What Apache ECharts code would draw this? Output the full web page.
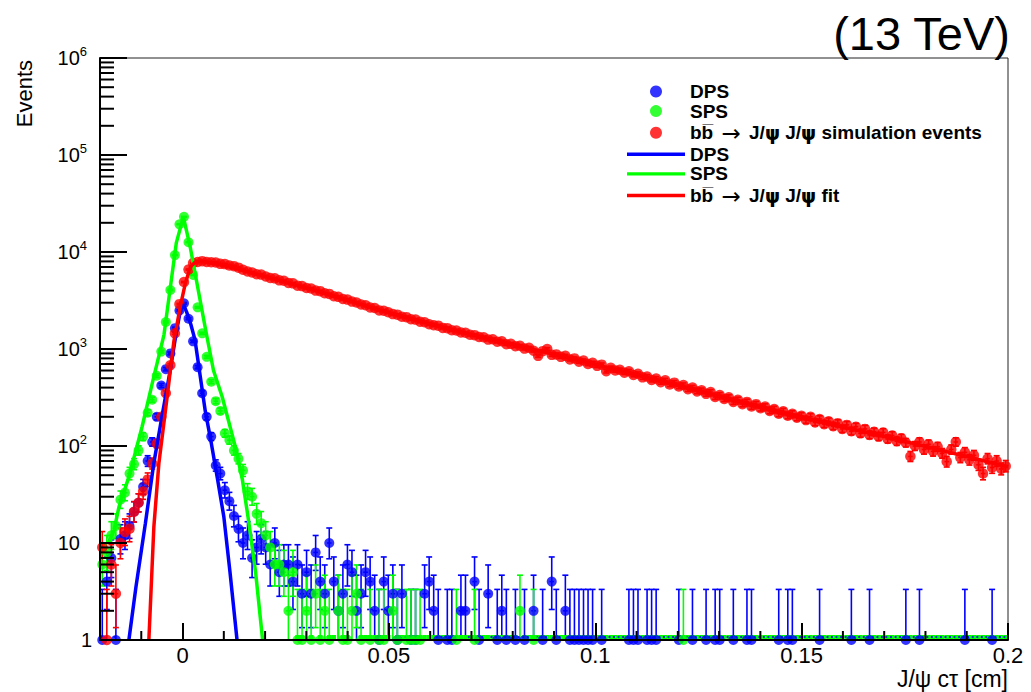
<!DOCTYPE html>
<html><head><meta charset="utf-8">
<script src="https://cdn.jsdelivr.net/npm/echarts@6/dist/echarts.min.js"></script>
<style>html,body{margin:0;padding:0;background:#fff}#c{width:1031px;height:692px}</style>
</head><body><div id="c"></div>
<script>
// ---- binning (histogram, 200 bins from -0.02 cm) ----
const X_MIN = -0.02;
const BIN_WIDTH = 0.0011;

// ---- counts per bin ----
const dpsCounts = [
1, 4, 7, 1, 11, 12, 15, 21, 26, 38,
70, 110, 200, 420, 620, 900, 1640, 2500, 2960, 2050,
1200, 650, 350, 200, 125, 63, 52, 35, 27, 19,
14, 10, 12, 7, 9, 11, 9, 6, 10, 5,
6, 6, 4, 6, 3, 5, 3, 8, 4, 3,
10, 4, 2, 3, 6, 5, 2, 3, 5, 4,
2, 1, 4, 2, 3, 1, 3, 0, 1, 1,
0, 3, 4, 2, 1, 0, 1, 1, 0, 2,
2, 0, 4, 1, 0, 3, 0, 1, 2, 1,
0, 1, 0, 1, 0, 2, 0, 1, 0, 4,
1, 0, 2, 1, 1, 1, 1, 1, 1, 0,
1, 0, 0, 0, 0, 0, 1, 1, 1, 0,
1, 1, 1, 0, 0, 0, 0, 1, 0, 0,
1, 0, 0, 1, 0, 1, 1, 0, 0, 1,
0, 0, 1, 1, 0, 0, 0, 0, 0, 1,
0, 1, 1, 0, 0, 0, 0, 0, 1, 0,
0, 0, 0, 0, 0, 1, 0, 0, 0, 1,
0, 0, 0, 0, 0, 0, 0, 1, 0, 0,
1, 0, 0, 0, 0, 0, 0, 0, 0, 0,
1, 0, 0, 0, 0, 0, 1, 0, 0, 0
];
const spsCounts = [
6, 8, 12, 15, 28, 33, 52, 65, 90, 125,
220, 300, 530, 940, 1900, 4060, 9300, 19300, 23100, 12600,
5800, 2690, 1450, 830, 460, 290, 230, 135, 115, 90,
74, 56, 34, 30, 20, 16, 12, 9, 6, 6,
5, 2, 5, 1, 1, 2, 1, 3, 1, 2,
1, 0, 2, 1, 1, 2, 3, 1, 0, 1,
0, 1, 1, 0, 2, 1, 0, 1, 1, 1,
1, 0, 0, 0, 0, 0, 0, 0, 1, 0,
0, 0, 1, 0, 0, 0, 0, 0, 0, 0,
0, 0, 2, 0, 0, 1, 0, 0, 0, 0,
0, 0, 0, 0, 0, 0, 0, 0, 0, 0,
0, 0, 0, 0, 0, 0, 0, 0, 0, 0,
0, 0, 0, 0, 0, 0, 0, 0, 1, 0,
0, 0, 0, 0, 0, 0, 0, 0, 0, 0,
0, 0, 0, 0, 0, 0, 0, 0, 0, 0,
0, 0, 0, 0, 0, 0, 0, 0, 0, 0,
0, 0, 0, 0, 0, 0, 0, 0, 0, 0,
0, 0, 0, 0, 0, 0, 0, 0, 0, 0,
0, 0, 0, 0, 0, 0, 0, 0, 0, 0,
0, 0, 0, 0, 0, 0, 0, 0, 0, 0
];
const bbCounts = [
9, 1, 6, 3, 10, 13, 14, 21, 26, 34,
45, 66, 106, 200, 350, 680, 1450, 2900, 4900, 6600,
7700, 7900, 8050, 7900, 7850, 7800, 7550, 7500, 7250, 7150,
6900, 6550, 6300, 6150, 5900, 5850, 5600, 5400, 5350, 5100,
5050, 4800, 4750, 4500, 4450, 4250, 4200, 4000, 3950, 3750,
3700, 3500, 3450, 3280, 3230, 3080, 3020, 2880, 2830, 2680,
2650, 2500, 2480, 2390, 2290, 2260, 2150, 2130, 2030, 2010,
1910, 1890, 1800, 1760, 1740, 1650, 1640, 1560, 1550, 1480,
1470, 1400, 1390, 1330, 1320, 1250, 1260, 1190, 1200, 1120,
1130, 1070, 1080, 1010, 1030, 960, 850, 950, 1000, 870,
880, 830, 850, 780, 800, 740, 760, 700, 720, 670,
690, 590, 640, 600, 610, 570, 590, 540, 555, 510,
520, 480, 495, 455, 475, 430, 450, 410, 425, 385,
400, 365, 375, 345, 360, 320, 335, 305, 318, 285,
300, 270, 285, 255, 270, 245, 255, 230, 240, 215,
228, 205, 215, 196, 205, 185, 200, 175, 190, 168,
180, 160, 172, 150, 165, 142, 158, 135, 150, 130,
140, 125, 138, 118, 128, 112, 120, 108, 78, 100,
110, 92, 104, 88, 98, 84, 69, 92, 110, 76,
86, 72, 80, 64, 52, 74, 60, 70, 58, 62
];

// ---- fit curves ----
const dpsFitX = [-0.0130, -0.0113, -0.0090, -0.0070, -0.0050, -0.0030, -0.0015, -0.0005, 0.0002, 0.0010, 0.0020, 0.0030, 0.0055, 0.0070, 0.0085, 0.0100, 0.0115, 0.0132];
const dpsFitY = [1, 3.5, 16, 65, 200, 600, 1500, 2500, 2900, 2400, 1800, 1250, 230, 105, 45, 18.7, 5, 1];
const spsFitX = [-0.0179, -0.0166, -0.0154, -0.0130, -0.0098, -0.0073, -0.0045, -0.0029, -0.0015, 0.0002, 0.0019, 0.0034, 0.0056, 0.0075, 0.0096, 0.0128, 0.0145, 0.0160, 0.0177, 0.0194];
const spsFitY = [10, 13.6, 23.6, 48, 158, 450, 1400, 4500, 12500, 23000, 11000, 5000, 1570, 600, 322, 98, 45, 17, 5, 1];
const bbFitX = [-0.00816, -0.00695, -0.00574, -0.0037, -0.0021, -0.0005, 0.0007, 0.0019, 0.0031, 0.0044, 0.0092, 0.0157, 0.0318, 0.0479, 0.0641, 0.0754, 0.0988, 0.123, 0.1472, 0.1738, 0.2];
const bbFitY = [1, 14.7, 66, 330, 1200, 2800, 4800, 7000, 7900, 8050, 7400, 6280, 4050, 2500, 1630, 1240, 715, 390, 210, 115, 61];

// ---- ticks ----
const xTickLabels = [0, 0.05, 0.1, 0.15, 0.2];
const xMinorTicks = [-0.01, 0.01, 0.02, 0.03, 0.04, 0.06, 0.07, 0.08, 0.09, 0.11, 0.12, 0.13, 0.14, 0.16, 0.17, 0.18, 0.19];
const yDecades = [1, 10, 100, 1000, 10000, 100000];
const yMinorMultipliers = [2, 3, 4, 5, 6, 7, 8, 9];

const legendLabels = {
  dps: 'DPS',
  sps: 'SPS',
  bbSim: 'bb\u0305 \u2192 J/\u03c8 J/\u03c8 simulation events',
  dpsFit: 'DPS',
  spsFit: 'SPS',
  bbFit: 'bb\u0305 \u2192 J/\u03c8 J/\u03c8 fit'
};

const BLUE = '#0000ff', GREEN = '#00ff00', RED = '#ff0000';
const FONT = "'Liberation Sans', Arial, Helvetica, sans-serif";
const LINE_ICON = 'path://M0,0L0.01,0L0,0.01Z M0,4.3L58,4.3L58,7.7L0,7.7Z M58,12L57.99,12L58,11.99Z';

function center(i) { return X_MIN + BIN_WIDTH * (i + 0.5); }
function points(counts) {
  const out = [];
  counts.forEach((c, i) => { if (c > 0) out.push([center(i), c]); });
  return out;
}
function emptyOrOne(counts) {
  const out = [];
  counts.forEach((c, i) => { if (c <= 1) out.push([center(i), 1]); });
  return out;
}
function zip(xs, ys) { return xs.map((x, i) => [x, ys[i]]); }

function errRender(color) {
  return function (params, api) {
    const x = api.value(0), n = api.value(1);
    const loRaw = n - Math.sqrt(n - 0.25);
    const lo = Math.max(loRaw, 1);
    const hi = n + 1 + Math.sqrt(n + 0.75);
    const pN = api.coord([x, n]);
    const pHi = api.coord([x, hi]);
    const pLo = api.coord([x, lo]);
    const pL = api.coord([x - BIN_WIDTH / 2, n]);
    const pR = api.coord([x + BIN_WIDTH / 2, n]);
    const style = { stroke: color, lineWidth: 1.6 };
    const ch = [
      { type: 'line', shape: { x1: pN[0], y1: pHi[1], x2: pN[0], y2: pLo[1] }, style },
      { type: 'line', shape: { x1: pN[0] - 3, y1: pHi[1], x2: pN[0] + 3, y2: pHi[1] }, style },
      { type: 'line', shape: { x1: pL[0], y1: pN[1], x2: pR[0], y2: pN[1] }, style }
    ];
    if (loRaw >= 1) ch.push({ type: 'line', shape: { x1: pN[0] - 3, y1: pLo[1], x2: pN[0] + 3, y2: pLo[1] }, style });
    return { type: 'group', children: ch };
  };
}
function bandRender(color, width, dash) {
  return function (params, api) {
    const x = api.value(0);
    const pL = api.coord([x - BIN_WIDTH / 2, 1]);
    const pR = api.coord([x + BIN_WIDTH / 2, 1]);
    return { type: 'line', shape: { x1: pL[0], y1: pL[1] - 3, x2: pR[0], y2: pR[1] - 3 },
      style: { stroke: color, lineWidth: width, lineDash: dash || null } };
  };
}

const yMinorData = [];
yDecades.forEach(d => yMinorMultipliers.forEach(m => yMinorData.push([X_MIN, d * m])));
const xMinorData = xMinorTicks.map(v => [v, 1]);

const chart = echarts.init(document.getElementById('c'), null, { renderer: 'svg' });
chart.setOption({
  animation: false,
  backgroundColor: '#fff',
  grid: { left: 100, right: 23, top: 58, bottom: 52, show: true, borderColor: '#222', borderWidth: 1, backgroundColor: 'transparent' },
  xAxis: {
    type: 'value', min: -0.02, max: 0.2, z: 10,
    axisLine: { onZero: false, lineStyle: { color: '#000', width: 2 } },
    axisTick: { inside: true, length: 17, lineStyle: { color: '#000', width: 2 }, customValues: xTickLabels },
    axisLabel: { customValues: xTickLabels, margin: 7, color: '#000', fontSize: 22, lineHeight: 17, fontFamily: FONT,
      formatter: v => String(Math.round(v * 100) / 100) },
    splitLine: { show: false }
  },
  yAxis: {
    type: 'log', logBase: 10, min: 1, max: 1000000, z: 10,
    axisLine: { onZero: false, lineStyle: { color: '#000', width: 2 } },
    axisTick: { inside: true, length: 27, lineStyle: { color: '#000', width: 2 } },
    axisLabel: {
      margin: 8, color: '#000', fontSize: 20, fontFamily: FONT,
      formatter: v => {
        const k = Math.round(Math.log10(v));
        if (k === 0) return '1';
        if (k === 1) return '{ten|10}';
        return '10{sup|' + k + '}';
      },
      rich: {
        sup: { fontSize: 13, fontFamily: FONT, color: '#000', padding: [0, 5, 14, 0] },
        ten: { fontSize: 20, fontFamily: FONT, color: '#000', padding: [0, 12, 0, 0] }
      }
    },
    splitLine: { show: false }
  },
  legend: {
    left: 622, top: 77, orient: 'vertical', itemWidth: 58, itemHeight: 12, itemGap: 0.6,
    data: [
      { name: 'dps', icon: 'circle' },
      { name: 'sps', icon: 'circle' },
      { name: 'bbSim', icon: 'circle' },
      { name: 'dpsFit', icon: LINE_ICON },
      { name: 'spsFit', icon: LINE_ICON },
      { name: 'bbFit', icon: LINE_ICON }
    ],
    formatter: name => legendLabels[name]
      .replace('\u2192', '{a|\u2192}')
      .replace(/\u03c8/g, '{p|\u03c8}'),
    textStyle: { fontSize: 19, lineHeight: 18, fontWeight: 'bold', fontFamily: FONT, color: '#000',
      rich: {
        a: { fontSize: 23, lineHeight: 18, fontWeight: 'normal', fontFamily: "'DejaVu Sans', sans-serif", color: '#000', padding: [0, 3, 0, 3] },
        p: { fontSize: 19, lineHeight: 18, fontWeight: 'bold', fontFamily: "'DejaVu Sans', sans-serif", color: '#000' }
      } },
    selectedMode: false
  },
  graphic: [
    { type: 'text', x: 1010, y: 33, style: { text: '(13 TeV)', font: '47px ' + FONT, fill: '#000', align: 'right', verticalAlign: 'middle' } },
    { type: 'text', x: 1008, y: 679, style: { text: 'J/\u03c8 c\u03c4 [cm]', font: '23px ' + FONT, fill: '#000', align: 'right', verticalAlign: 'middle' } },
    { type: 'text', x: 24, y: 60, rotation: Math.PI / 2, style: { text: 'Events', font: '22px ' + FONT, fill: '#000', align: 'right', verticalAlign: 'middle' } }
  ],
  series: [
    { type: 'custom', name: 'dpsErr', data: points(dpsCounts), renderItem: errRender(BLUE), encode: { x: 0, y: 1 }, clip: false, silent: true },
    { type: 'scatter', name: 'dps', data: points(dpsCounts), symbol: 'circle', symbolSize: 10, itemStyle: { color: BLUE }, clip: false },
    { type: 'custom', name: 'spsErr', data: points(spsCounts), renderItem: errRender(GREEN), encode: { x: 0, y: 1 }, clip: false, silent: true },
    { type: 'scatter', name: 'sps', data: points(spsCounts), symbol: 'circle', symbolSize: 10, itemStyle: { color: GREEN }, clip: false },
    { type: 'custom', name: 'bbErr', data: points(bbCounts), renderItem: errRender(RED), encode: { x: 0, y: 1 }, clip: false, silent: true },
    { type: 'scatter', name: 'bbSim', data: points(bbCounts), symbol: 'circle', symbolSize: 10.5, itemStyle: { color: RED }, clip: false },
    { type: 'custom', name: 'spsBand', data: emptyOrOne(spsCounts), renderItem: bandRender(GREEN, 4), encode: { x: 0, y: 1 }, clip: false, silent: true },
    { type: 'custom', name: 'dpsBand', data: emptyOrOne(dpsCounts), renderItem: bandRender(BLUE, 1.6, [2, 3]), encode: { x: 0, y: 1 }, clip: false, silent: true },
    { type: 'line', name: 'dpsFit', data: zip(dpsFitX, dpsFitY), symbol: 'none', lineStyle: { color: BLUE, width: 3.5 }, itemStyle: { color: BLUE } },
    { type: 'line', name: 'spsFit', data: zip(spsFitX, spsFitY), symbol: 'none', lineStyle: { color: GREEN, width: 3.5 }, itemStyle: { color: GREEN } },
    { type: 'line', name: 'bbFit', data: zip(bbFitX, bbFitY), symbol: 'none', lineStyle: { color: RED, width: 3.5 }, itemStyle: { color: RED } },
    { type: 'custom', name: 'yMinorTicks', data: yMinorData, encode: { x: 0, y: 1 }, clip: false, silent: true, z: 11,
      renderItem: (p, api) => { const c = api.coord([api.value(0), api.value(1)]);
        return { type: 'line', shape: { x1: c[0], y1: c[1], x2: c[0] + 14, y2: c[1] }, style: { stroke: '#000', lineWidth: 2 } }; } },
    { type: 'custom', name: 'xMinorTicks', data: xMinorData, encode: { x: 0, y: 1 }, clip: false, silent: true, z: 11,
      renderItem: (p, api) => { const c = api.coord([api.value(0), api.value(1)]);
        return { type: 'line', shape: { x1: c[0], y1: c[1], x2: c[0], y2: c[1] - 9 }, style: { stroke: '#000', lineWidth: 2 } }; } }
  ]
});
</script>
</body></html>
